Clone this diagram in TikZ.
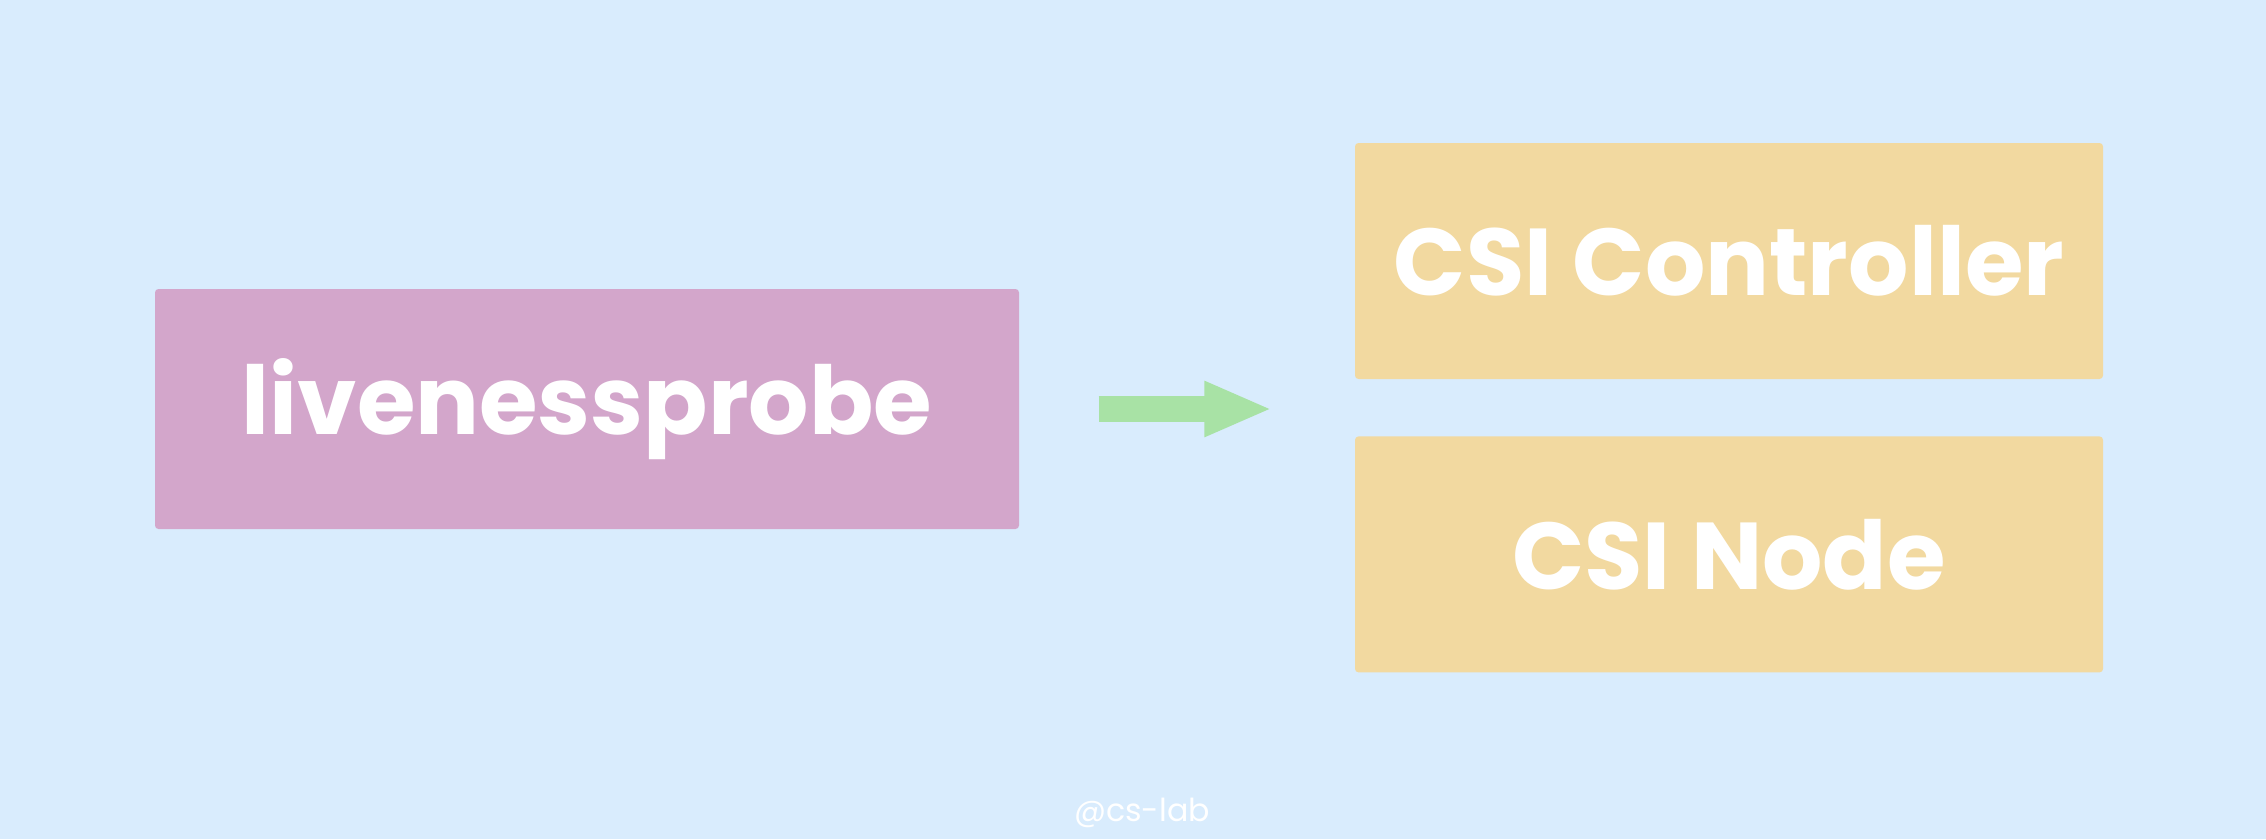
\documentclass[tikz,border=0pt]{standalone}
\usepackage{fontspec}
\setmainfont{Poppins}
\usetikzlibrary{positioning,arrows.meta}
\definecolor{bgblue}{HTML}{D9ECFD}
\definecolor{probepink}{HTML}{D3A6CB}
\definecolor{csisand}{HTML}{F2D9A0}
\definecolor{arrowgreen}{HTML}{A8E2A5}
\begin{document}
\begin{tikzpicture}[scale=1, font=\fontsize{27}{33}\selectfont, line join=round,
	box/.style={rectangle, rounded corners=1pt, text=white, inner sep=0pt, font=\fontsize{27}{33}\selectfont\bfseries},
	probebox/.style={box, fill=probepink, minimum width=8.64cm, minimum height=2.40cm},
	csibox/.style={box, fill=csisand, minimum width=7.48cm, minimum height=2.36cm},
	flow/.style={arrowgreen, line width=2.6mm, -{Triangle[length=6.8mm, width=5.1mm]}}]
	\def\W{22.66} \def\H{8.39} % Bildgroesse
	\fill[bgblue] (0,0) rectangle (\W,\H);
	\useasboundingbox (0,0) rectangle (\W,\H);
	\node[probebox] (probe) at (5.87,4.30) {livenessprobe};
	\node[csibox] (ctrl) at (17.29,5.78) {CSI Controller};
	\node[csibox, below=0.56cm of ctrl] (csinode) {CSI Node};
	\coordinate[right=0.79cm of probe] (flowstart);
	\coordinate[left=0.82cm of probe.east -| ctrl.west] (flowend);
	\draw[flow] (flowstart) -- (flowend);
	\node[text=white, font=\fontsize{9}{11}\selectfont] (mark) at (11.42,0.26) {@cs-lab};
\end{tikzpicture}
\end{document}
